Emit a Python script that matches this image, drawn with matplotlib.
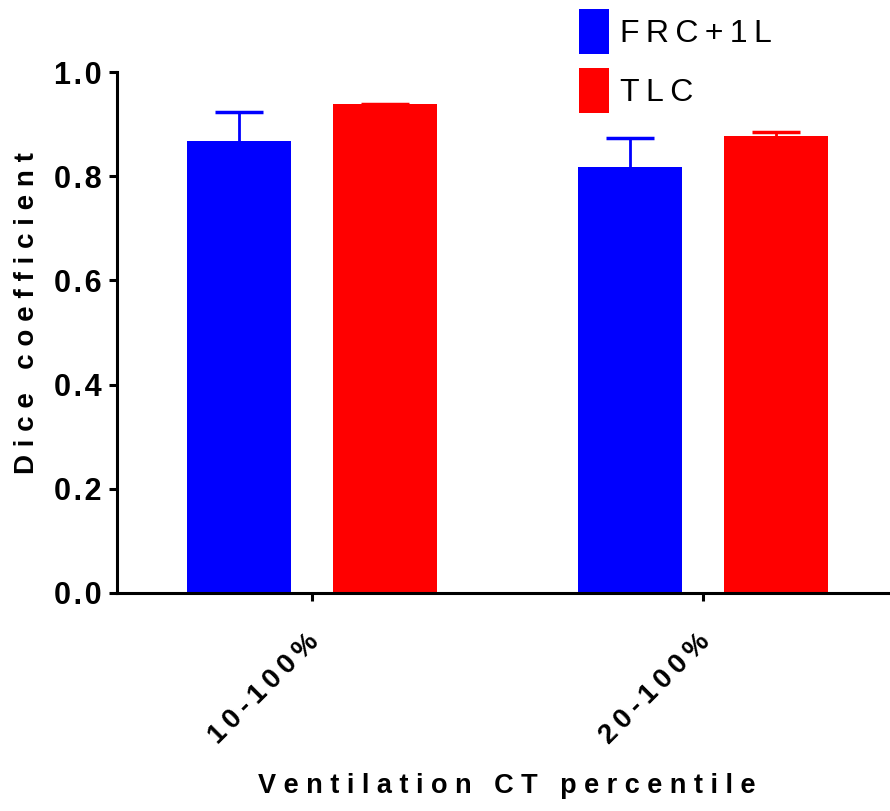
import matplotlib
matplotlib.use("Agg")
import matplotlib.pyplot as plt
import matplotlib.transforms as mtransforms
import numpy as np

plt.rcParams["font.family"] = ["Liberation Sans", "DejaVu Sans"]

# data
categories = ["10-100%", "20-100%"]
series_names = ["FRC+1L", "TLC"]
frc_values = [0.868, 0.818]
frc_errors = [0.055, 0.055]
tlc_values = [0.938, 0.878]
tlc_errors = [0.0, 0.007]
y_ticks = [0.0, 0.2, 0.4, 0.6, 0.8, 1.0]


def spaced(text, gap="\u2009"):
    # letter spacing, like the original export
    return gap.join(text)


fig = plt.figure(figsize=(8.9, 8.11), dpi=100)
ax = fig.add_axes([117 / 890, 1 - 593 / 811, 1 - 117 / 890, (593 - 72) / 811])

x = np.arange(len(categories))
width = 0.266
offset = 0.187

bars_frc = ax.bar(x - offset, frc_values, width, color="#0000FF",
                  label=spaced(series_names[0]))
bars_tlc = ax.bar(x + offset, tlc_values, width, color="#FF0000",
                  label=spaced(series_names[1]))

# upper error bars only
for xs, vals, errs, col in [(x - offset, frc_values, frc_errors, "#0000FF"),
                            (x + offset, tlc_values, tlc_errors, "#FF0000")]:
    eb = ax.errorbar(xs, vals, yerr=[np.zeros(len(xs)), errs], fmt="none",
                     ecolor=col, elinewidth=2, capsize=17.6, capthick=2.5)
    eb[1][0].set_visible(False)

ax.set_xlim(-0.499, 1.478)
ax.set_ylim(0, 1.0)

ax.spines["top"].set_visible(False)
ax.spines["right"].set_visible(False)
ax.spines["left"].set_linewidth(2.2)
ax.spines["bottom"].set_linewidth(2.2)

ax.set_yticks(y_ticks)
ax.set_yticklabels([spaced(f"{v:.1f}", "\u200a") for v in y_ticks],
                   fontsize=22, fontweight="bold")
ax.tick_params(axis="y", length=6, width=2.2, pad=5)

ax.set_xticks(x)
ax.set_xticklabels([spaced(c) for c in categories], fontsize=20,
                   fontweight="bold", rotation=45, ha="right", va="top",
                   rotation_mode="anchor")
ax.tick_params(axis="x", length=6, width=2.2, pad=20)
shift = mtransforms.ScaledTranslation(-0.06, 0, fig.dpi_scale_trans)
for lbl in ax.get_xticklabels():
    lbl.set_transform(lbl.get_transform() + shift)

ax.set_ylabel(spaced("Dice coefficient", " "), fontsize=20, fontweight="bold")
ax.yaxis.set_label_coords(-0.1, 0.537)
ax.set_xlabel(spaced("Ventilation CT percentile", " "), fontsize=19.5,
              fontweight="bold")
ax.xaxis.set_label_coords(0.5045, -0.345)

ax.legend(handles=[bars_frc, bars_tlc], loc="upper left",
          bbox_to_anchor=(579 / 890, 1 - 9 / 811),
          bbox_transform=fig.transFigure, frameon=False, fontsize=23,
          handlelength=0.94, handleheight=1.79, handletextpad=0.34,
          labelspacing=0.44, borderpad=0, borderaxespad=0)

fig.savefig("out.png", dpi=100)
plt.close(fig)
